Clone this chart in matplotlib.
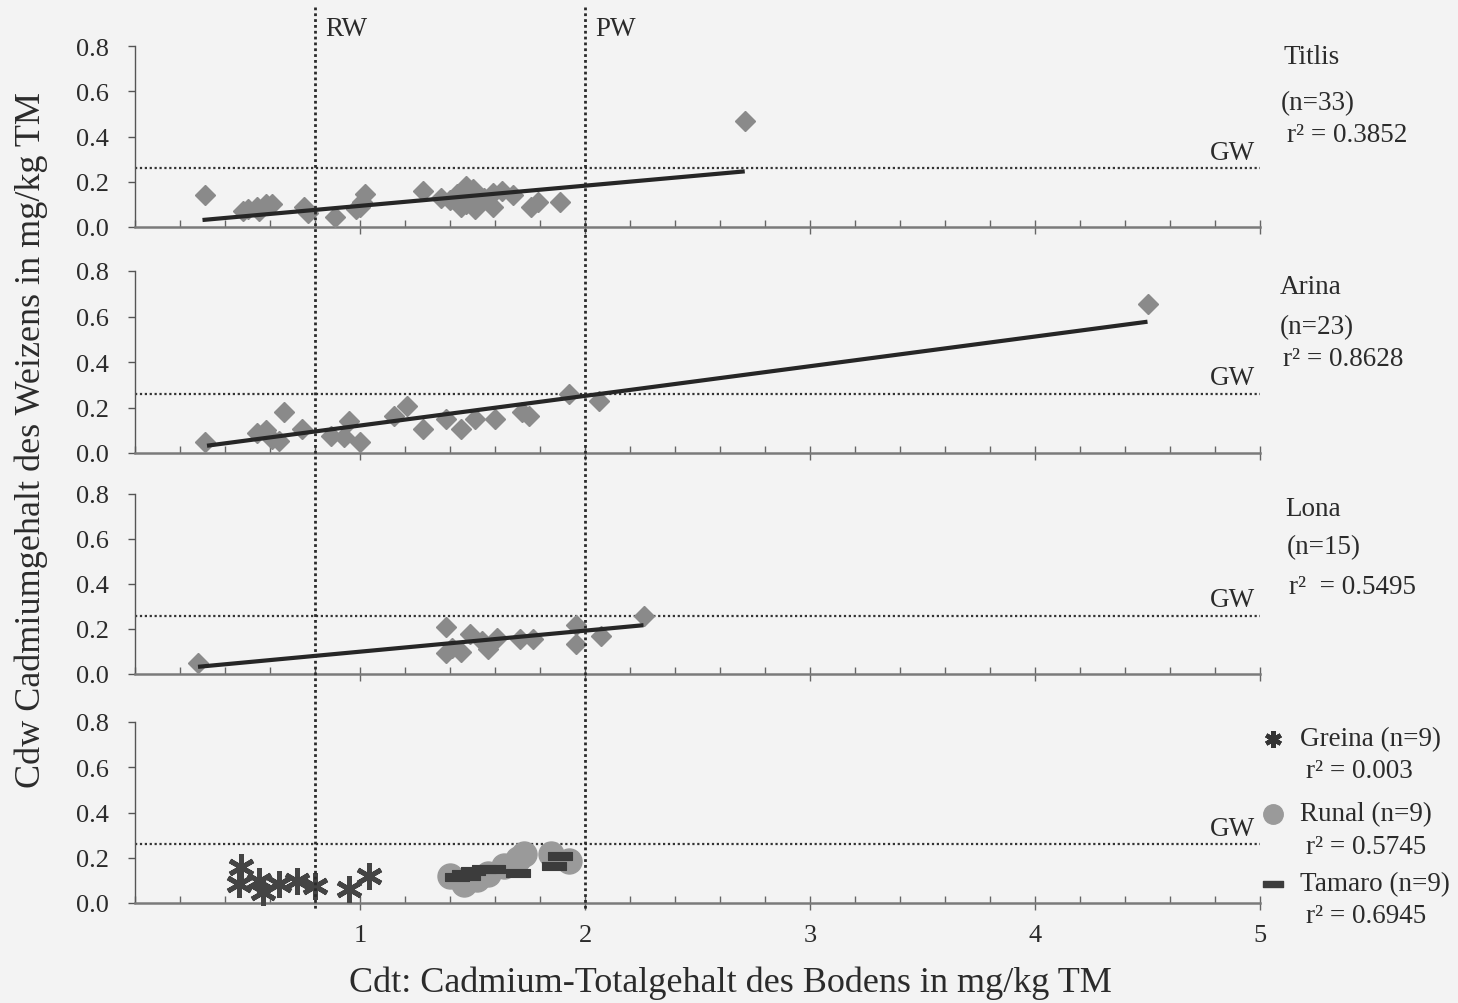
import numpy as np
import matplotlib.pyplot as plt
from matplotlib.lines import Line2D
from matplotlib.path import Path
from matplotlib.ticker import FixedLocator, MultipleLocator, FormatStrFormatter
from matplotlib.transforms import blended_transform_factory

plt.rcParams['font.family'] = ['Liberation Serif', 'DejaVu Serif']

# Cd-Gehalt Boden (x) und Weizen (y), mg/kg TM
titlis_x = [0.31, 0.48, 0.50, 0.54, 0.55, 0.58, 0.61, 0.75, 0.77, 0.89, 0.98, 1.00, 1.01,
            1.02, 1.28, 1.36, 1.40, 1.43, 1.45, 1.47, 1.47, 1.49, 1.50, 1.51, 1.55, 1.59,
            1.59, 1.63, 1.68, 1.76, 1.79, 1.89, 2.71]
titlis_y = [0.14, 0.07, 0.08, 0.09, 0.07, 0.10, 0.10, 0.09, 0.06, 0.045, 0.08, 0.09, 0.11,
            0.145, 0.16, 0.13, 0.12, 0.145, 0.09, 0.18, 0.10, 0.12, 0.17, 0.08, 0.13, 0.15,
            0.09, 0.16, 0.14, 0.09, 0.11, 0.11, 0.47]

arina_x = [0.31, 0.54, 0.58, 0.61, 0.64, 0.66, 0.74, 0.87, 0.93, 0.95, 1.00, 1.15, 1.21,
           1.28, 1.38, 1.45, 1.51, 1.60, 1.72, 1.75, 1.93, 2.06, 4.50]
arina_y = [0.047, 0.09, 0.10, 0.06, 0.054, 0.18, 0.105, 0.076, 0.069, 0.142, 0.047, 0.164,
           0.208, 0.105, 0.15, 0.105, 0.15, 0.15, 0.179, 0.164, 0.26, 0.23, 0.655]

lona_x = [0.28, 1.38, 1.38, 1.41, 1.45, 1.49, 1.54, 1.57, 1.61, 1.71, 1.77, 1.96, 1.96, 2.07, 2.26]
lona_y = [0.048, 0.208, 0.095, 0.115, 0.10, 0.176, 0.147, 0.11, 0.16, 0.154, 0.154, 0.217,
          0.135, 0.168, 0.26]

greina_x = [0.47, 0.46, 0.55, 0.57, 0.64, 0.72, 0.80, 0.95, 1.04]
greina_y = [0.157, 0.084, 0.098, 0.047, 0.084, 0.098, 0.076, 0.062, 0.12]

runal_x = [1.40, 1.46, 1.52, 1.57, 1.64, 1.70, 1.73, 1.85, 1.93]
runal_y = [0.12, 0.084, 0.105, 0.127, 0.164, 0.193, 0.215, 0.215, 0.186]

tamaro_x = [1.43, 1.46, 1.48, 1.50, 1.55, 1.59, 1.70, 1.86, 1.89]
tamaro_y = [0.116, 0.13, 0.12, 0.142, 0.149, 0.149, 0.132, 0.164, 0.208]

# Regressionsgeraden (Steigung, Achsenabschnitt, x-Bereich)
fit_slope = [0.0892, 0.1304, 0.0934]
fit_icpt = [0.0042, -0.0097, 0.0058]
fit_xmin = [0.30, 0.32, 0.28]
fit_xmax = [2.71, 4.50, 2.26]

names = ['Titlis', 'Arina', 'Lona']
n_txt = ['(n=33)', '(n=23)', '(n=15)']
r2_txt = ['r\u00b2 = 0.3852', 'r\u00b2 = 0.8628', 'r\u00b2  = 0.5495']
low_names = ['Greina (n=9)', 'Runal (n=9)', 'Tamaro (n=9)']
low_r2 = ['r\u00b2 = 0.003', 'r\u00b2 = 0.5745', 'r\u00b2 = 0.6945']

RW = 0.8
PW = 2.0
GW = 0.26

W, H = 1458, 1004
def fx(p):
    return p / W
def fy(p):
    return 1 - p / H

txt = '#2b2b2b'
fig = plt.figure(figsize=(W / 100, H / 100), dpi=100, facecolor='#f3f3f3')

# Achsen: y=0 und y=0.8 in Pixeln je Panel
panel_px = [(228, 47), (454, 272), (675, 495), (904, 723)]
axes = []
for i, (p0, p8) in enumerate(panel_px):
    ax = fig.add_axes([fx(135), fy(p0), fx(1260) - fx(135), (p0 - p8) / H])
    ax.set_facecolor('none')
    ax.set_xlim(0, 5)
    ax.set_ylim(0, 0.8)
    for s in ['top', 'right']:
        ax.spines[s].set_visible(False)
    ax.spines['bottom'].set_color('#7a7a7a')
    ax.spines['bottom'].set_linewidth(1.8)
    ax.spines['left'].set_color('#555555')
    ax.spines['left'].set_linewidth(1.0)
    ax.set_yticks([0, 0.2, 0.4, 0.6, 0.8])
    ax.yaxis.set_major_formatter(FormatStrFormatter('%.1f'))
    ax.tick_params(axis='y', direction='out', length=5, width=1, color='#555555',
                   labelcolor=txt, labelsize=19, pad=14)
    ax.xaxis.set_major_locator(FixedLocator([1, 2, 3, 4, 5]))
    ax.xaxis.set_minor_locator(MultipleLocator(0.2))
    ax.tick_params(axis='x', which='major', direction='inout', length=10, width=1,
                   color='#666666', labelcolor=txt, labelsize=19, pad=10)
    ax.tick_params(axis='x', which='minor', direction='in', length=5, width=1, color='#666666')
    if i < 3:
        ax.tick_params(axis='x', labelbottom=False)
    ax.axhline(GW, color='#333333', lw=1.6, ls=(0, (1, 1.2)), zorder=1)
    ax.text(4.98, GW + 0.015, 'GW', ha='right', va='bottom', fontsize=19.5, color=txt)
    axes.append(ax)

dia = dict(ls='none', marker='D', ms=10.5, color='#8a8a8a', mec='#8a8a8a', clip_on=False, zorder=3)
for ax, xs, ys, k in zip(axes[:3], [titlis_x, arina_x, lona_x], [titlis_y, arina_y, lona_y], range(3)):
    ax.plot(xs, ys, **dia)
    xl = np.array([fit_xmin[k], fit_xmax[k]])
    ax.plot(xl, fit_slope[k] * xl + fit_icpt[k], color='#262626', lw=3, zorder=4,
            solid_capstyle='butt')

bar = Path([(-1, -0.3), (1, -0.3), (1, 0.3), (-1, 0.3), (-1, -0.3)],
           [Path.MOVETO, Path.LINETO, Path.LINETO, Path.LINETO, Path.CLOSEPOLY])
star = (6, 2, 0)

ax4 = axes[3]
ax4.plot(runal_x, runal_y, ls='none', marker='o', ms=18, color='#9a9a9a', mec='#9a9a9a',
         clip_on=False, zorder=3)
ax4.plot(tamaro_x, tamaro_y, ls='none', marker=bar, ms=17, color='#3c3c3c', mec='#3c3c3c',
         mew=0.8, clip_on=False, zorder=4)
ax4.plot(greina_x, greina_y, ls='none', marker=star, ms=19, color='#444444', mew=3.5,
         clip_on=False, zorder=5)

# RW / PW Linien ueber alle Panels
trans = blended_transform_factory(axes[0].transData, fig.transFigure)
for xv, lab in [(RW, 'RW'), (PW, 'PW')]:
    fig.add_artist(Line2D([xv, xv], [fy(8), fy(912)], transform=trans, color='#2a2a2a',
                          lw=2, ls=(0, (1, 1.1))))
    fig.text(xv + 0.045, fy(30), lab, transform=trans, fontsize=19.5, color=txt,
             ha='left', va='center')

# Beschriftung rechts
right_pos = [(1283, 58, 1281, 104, 1287, 136), (1280, 288, 1280, 328, 1283, 360),
             (1285, 510, 1287, 548, 1289, 587)]
for k, (a, b, c, d, e, f) in enumerate(right_pos):
    fig.text(fx(a), fy(b), names[k], fontsize=19.5, color=txt, va='center')
    fig.text(fx(c), fy(d), n_txt[k], fontsize=19.5, color=txt, va='center')
    fig.text(fx(e), fy(f), r2_txt[k], fontsize=19.5, color=txt, va='center')

key_style = [dict(marker=star, ms=12, color='#333333', mew=3.2),
             dict(marker='o', ms=14, color='#9a9a9a', mec='#9a9a9a'),
             dict(marker=bar, ms=14, color='#3c3c3c', mec='#3c3c3c')]
key_y = [740, 815, 885]
for k in range(3):
    fig.add_artist(Line2D([fx(1273)], [fy(key_y[k])], transform=fig.transFigure, ls='none',
                          **key_style[k]))
    fig.text(fx(1300), fy(key_y[k]), low_names[k], fontsize=19.5, color=txt, va='center')
    fig.text(fx(1306), fy(key_y[k] + 32), low_r2[k], fontsize=19.5, color=txt, va='center')

fig.text(fx(730), fy(983), 'Cdt: Cadmium-Totalgehalt des Bodens in mg/kg TM', fontsize=26,
         color=txt, ha='center', va='center')
fig.text(fx(31), fy(440), 'Cdw Cadmiumgehalt des Weizens in mg/kg TM', fontsize=26,
         color=txt, ha='center', va='center', rotation=90)

fig.savefig('out.png', dpi=100, facecolor=fig.get_facecolor())
